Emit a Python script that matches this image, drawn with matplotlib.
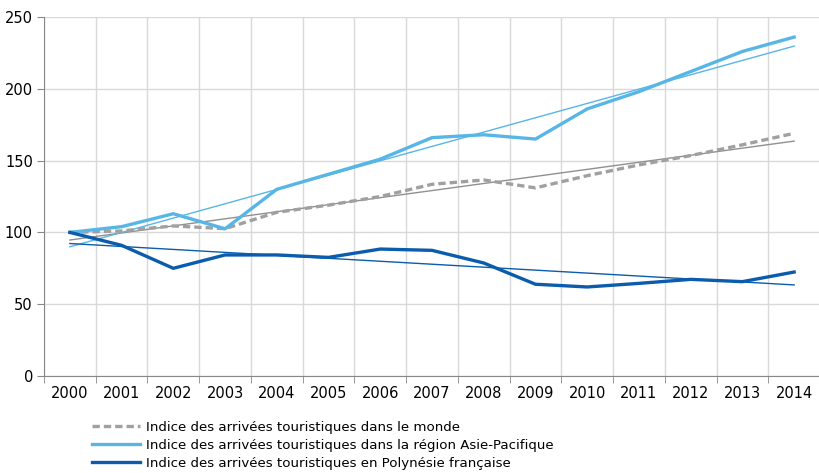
import matplotlib
matplotlib.use('Agg')
import matplotlib.pyplot as plt
import numpy as np

years = ['2000', '2001', '2002', '2003', '2004', '2005', '2006', '2007',
         '2008', '2009', '2010', '2011', '2012', '2013', '2014']
monde = [100, 101, 104.5, 102.6, 114, 119, 125, 133.5, 136.5, 131, 139.5, 147, 153.5, 161, 169]
asie = [100, 104, 113, 102.5, 130, 140.5, 151, 166, 168, 165, 186, 198, 212, 226, 236]
polynesie = [100, 91, 75, 84.3, 84.3, 82.6, 88.4, 87.5, 78.7, 63.9, 62, 64.5, 67.3, 65.7, 72.4]

labels = ['Indice des arrivées touristiques dans le monde',
          'Indice des arrivées touristiques dans la région Asie-Pacifique',
          'Indice des arrivées touristiques en Polynésie française']

c_monde = '#a0a0a0'
c_asie = '#58b6e7'
c_poly = '#0b5cad'

fig = plt.figure(figsize=(8.2, 4.73), dpi=100)
ax = fig.add_axes([44 / 820, 1 - 376 / 473, 776 / 820, (376 - 17) / 473])

x = np.arange(len(years))

# courbes de tendance (regression lineaire)
for serie, col in [(monde, '#909090'), (asie, c_asie), (polynesie, c_poly)]:
    a, b = np.polyfit(x, serie, 1)
    ax.plot(x, a * x + b, color=col, lw=1, zorder=3)

ax.plot(x, monde, color=c_monde, lw=2.4, ls=(0, (2.2, 1.2)), label=labels[0], zorder=4)
ax.plot(x, asie, color=c_asie, lw=2.4, label=labels[1], zorder=4)
ax.plot(x, polynesie, color=c_poly, lw=2.4, label=labels[2], zorder=5)

ax.set_xlim(-0.5, len(years) - 0.5)
ax.set_ylim(0, 250)
ax.set_yticks(range(0, 251, 50))
ax.set_xticks(x)
ax.set_xticklabels(years)
ax.set_xticks(np.arange(-0.5, len(years), 1), minor=True)
ax.tick_params(axis='x', which='major', length=0, labelsize=10.5, pad=7)
ax.tick_params(axis='x', which='minor', length=5, color='#888888')
ax.tick_params(axis='y', length=5, color='#888888', labelsize=10.5, pad=3)

ax.grid(True, axis='y', color='#d9d9d9', lw=1)
ax.grid(True, axis='x', which='minor', color='#d9d9d9', lw=1)
ax.set_axisbelow(True)
for s in ['top', 'right']:
    ax.spines[s].set_visible(False)
for s in ['left', 'bottom']:
    ax.spines[s].set_color('#888888')

fig.legend(loc='upper left', bbox_to_anchor=(92 / 820, 1 - 421 / 473), frameon=False,
           borderpad=0, borderaxespad=0,
           handlelength=3.6, handletextpad=0.45, labelspacing=0.36,
           prop={'family': 'DejaVu Sans', 'size': 9.6})

fig.savefig('out.png', dpi=100)
